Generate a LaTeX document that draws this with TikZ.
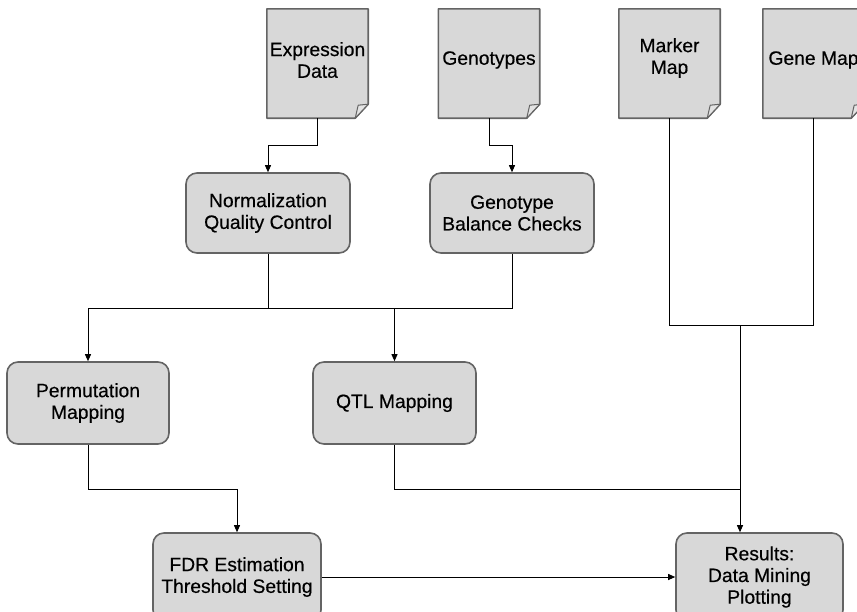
\documentclass[tikz,border=0pt]{standalone}
\usepackage{fontspec}
\setmainfont{Liberation Sans}[FakeBold=0.4]
\usetikzlibrary{calc,arrows.meta}
\definecolor{boxfill}{HTML}{D8D8D8}
\definecolor{boxedge}{HTML}{646464}
\definecolor{flapfill}{HTML}{E4E4E4}
\begin{document}
\begin{tikzpicture}[x=1pt,y=-1pt,
  txt/.style={align=center,font=\fontsize{19.3}{21.7}\selectfont,inner sep=0pt},
  box/.style={txt,draw=boxedge,fill=boxfill,line width=1.6pt,rounded corners=11pt},
  docnode/.style={minimum width=101pt,minimum height=109pt,inner sep=0pt},
  docline/.style={draw=boxedge,fill=boxfill,line width=1.6pt,line join=round},
  flapline/.style={draw=boxedge,fill=flapfill,line width=1pt,line join=round},
  conn/.style={draw=black,line width=0.9pt},
  arr/.style={conn,-{Triangle[length=7pt,width=6pt]}}]
\useasboundingbox (0,0) rectangle (857,611);
\clip (0,0) rectangle (857,611);
\newcommand\docshape[1]{%
  \path[docline] (#1.north west) -- (#1.north east) -- ($(#1.south east)+(0,-14)$)
     -- ($(#1.south east)+(-13,0)$) -- (#1.south west) -- cycle;
  \path[flapline] ($(#1.south east)+(-13,0)$) -- ($(#1.south east)+(-10,-13)$)
     -- ($(#1.south east)+(0,-14)$) -- cycle;}
% documents
\node[docnode] (expr) at (317.5,63.5) {};
\node[docnode] (gdoc) at (489,63.5) {};
\node[docnode] (mmap) at (669.5,63.5) {};
\node[docnode] (gmap) at (813.5,63.5) {};
\docshape{expr}\docshape{gdoc}\docshape{mmap}\docshape{gmap}
\node[txt] (exprt) at (317.5,60) {Expression\\Data};
\node[txt] (gdoct) at (489,60) {Genotypes};
\node[txt] (mmapt) at (669.5,58) {Marker\\Map};
\node[txt] (gmapt) at (813.5,60) {Gene Map};
% process boxes
\node[box,minimum width=164pt,minimum height=80pt] (norm) at (268,213) {Normalization\\Quality Control};
\node[box,minimum width=164pt,minimum height=80pt] (geno) at (512,213) {Genotype\\Balance Checks};
\node[box,minimum width=162pt,minimum height=82pt] (perm) at (88,403) {Permutation\\Mapping};
\node[box,minimum width=163pt,minimum height=82pt] (qtl) at (394.5,403) {QTL Mapping};
\node[box,minimum width=168pt,minimum height=88pt] (fdr) at (237,577) {FDR Estimation\\Threshold Setting};
\node[box,minimum width=167pt,minimum height=88pt] (res) at (759.5,577) {Results:\\Data Mining\\Plotting};
% junctions
\coordinate (j1) at (268,308);
\coordinate (j2) at (740,325);
\coordinate (j3) at (740,489);
% connectors
\draw[arr] (expr.south) |- ($(expr.south)!0.5!(norm.north)$) -| (norm.north);
\draw[arr] (gdoc.south) |- ($(gdoc.south)!0.5!(geno.north)$) -| (geno.north);
\draw[conn] (norm.south) -- (j1);
\draw[conn] (geno.south) |- (j1);
\draw[arr] (j1) -| (perm.north);
\draw[arr] (j1) -| (qtl.north);
\draw[arr] (perm.south) |- (perm.south |- j3) -| (fdr.north);
\draw[conn] (qtl.south) |- (j3);
\draw[conn] (mmap.south) |- (j2);
\draw[conn] (gmap.south) |- (j2);
\draw[arr] (j2) -- (j2 |- res.north);
\draw[arr] (fdr.east) -- (fdr.east -| res.west);
\end{tikzpicture}
\end{document}
